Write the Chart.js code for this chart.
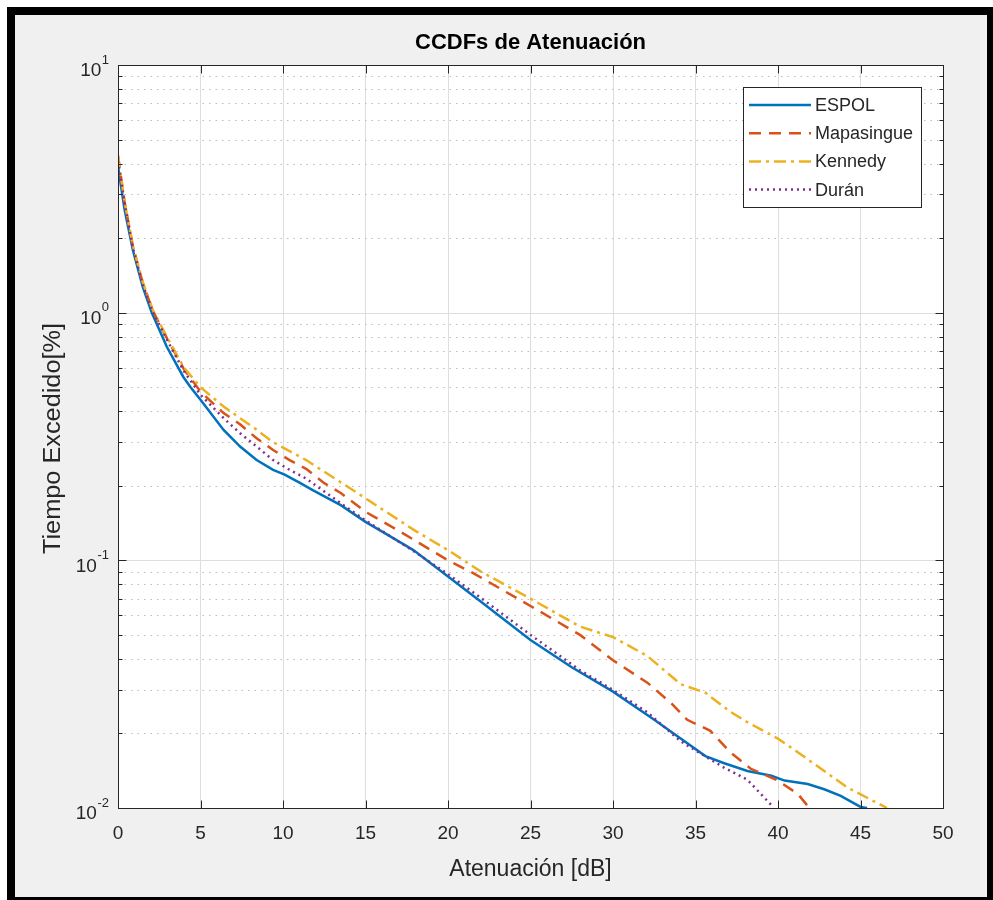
<!DOCTYPE html>
<html>
<head>
<meta charset="utf-8">
<script src="https://cdn.jsdelivr.net/npm/chart.js@4"></script>
<style>
  html, body { margin: 0; padding: 0; background: #fff; overflow: hidden; }
  #frame { position: absolute; left: 7px; top: 7px; width: 972px; height: 882px; border: 8px solid #000; background: #f0f0f0; }
  canvas { display: block; }
</style>
</head>
<body>
<div id="frame"><canvas id="chartCanvas" width="972" height="882"></canvas></div>
<script>
// --- Data ---
const espolX = [0, 0.4, 0.9, 1.5, 2.05, 2.95, 3.96, 4.4, 5, 6.4, 7.4, 8.4, 9.4, 10.1, 11, 11.8, 13.5, 15, 16.5, 17.9, 20, 22, 25, 27.5, 30, 32.5, 34.1, 35.6, 36.7, 38.15, 39.6, 40.4, 41.8, 42.8, 43.8, 45.0, 45.4];
const espolY = [3.9, 2.6, 1.79, 1.27, 1.0, 0.73, 0.55, 0.5, 0.445, 0.336, 0.288, 0.254, 0.232, 0.222, 0.206, 0.192, 0.167, 0.143, 0.125, 0.110, 0.086, 0.068, 0.0477, 0.037, 0.0295, 0.0227, 0.0191, 0.0162, 0.0152, 0.0141, 0.0135, 0.0129, 0.0125, 0.0119, 0.0112, 0.0101, 0.0100];

const mapasingueX = [0, 0.4, 0.9, 1.5, 2.1, 3, 4, 5, 6.4, 7.4, 8.4, 9.4, 10.4, 11.4, 12.5, 13.5, 15, 16.9, 20, 21.5, 25, 28, 30, 32.1, 33.5, 34.5, 35.9, 37.1, 38.35, 39.9, 41.2, 41.9];
const mapasingueY = [4.3, 2.8, 1.85, 1.32, 1.02, 0.78, 0.59, 0.48, 0.393, 0.354, 0.311, 0.279, 0.254, 0.234, 0.205, 0.187, 0.157, 0.133, 0.100, 0.089, 0.0654, 0.050, 0.0395, 0.032, 0.0266, 0.0227, 0.0205, 0.0168, 0.0144, 0.013, 0.0114, 0.0100];

const kennedyX = [0, 0.4, 0.9, 1.5, 2.1, 3, 4, 5, 6.4, 7.4, 8.4, 9.4, 10.4, 11.4, 13, 15, 17.9, 20, 22, 25, 28, 30, 32.1, 34.1, 35.6, 37.1, 38.15, 39.97, 41.2, 42.8, 44.2, 45.4, 46.6];
const kennedyY = [4.3, 2.8, 1.87, 1.33, 1.03, 0.79, 0.60, 0.50, 0.418, 0.375, 0.337, 0.30, 0.276, 0.254, 0.217, 0.178, 0.133, 0.110, 0.09, 0.07, 0.054, 0.049, 0.041, 0.0316, 0.0292, 0.0245, 0.0222, 0.0191, 0.0168, 0.0141, 0.0121, 0.011, 0.0100];

const duranX = [0, 0.4, 0.9, 1.5, 2.1, 3, 4, 5, 6.4, 7.4, 8.4, 9.4, 10.4, 11.4, 13.5, 15, 18, 20, 22, 25, 28, 30, 32.1, 34.1, 35.3, 36.7, 38.15, 39.7];
const duranY = [4.1, 2.75, 1.83, 1.3, 1.01, 0.77, 0.58, 0.466, 0.375, 0.326, 0.288, 0.254, 0.232, 0.214, 0.17, 0.145, 0.108, 0.088, 0.0705, 0.050, 0.036, 0.030, 0.0243, 0.0186, 0.0166, 0.0146, 0.013, 0.0101];

const seriesNames = ["ESPOL", "Mapasingue", "Kennedy", "Durán"];
const seriesX = [espolX, mapasingueX, kennedyX, duranX];
const seriesY = [espolY, mapasingueY, kennedyY, duranY];

const xTicks = [0, 5, 10, 15, 20, 25, 30, 35, 40, 45, 50];
const yExponents = [-2, -1, 0, 1];

const chartTitle = "CCDFs de Atenuación";
const xTitle = "Atenuación [dB]";
const yTitle = "Tiempo Excedido[%]";

// --- Styles ---
const seriesColors = ["#0072BD", "#D95319", "#EDB120", "#7E2F8E"];
const seriesDash = [[], [12, 8], [12, 5, 3, 5], [2, 4]];
const FONT = "'Liberation Sans', Arial, Helvetica, sans-serif";
const AXIS = "#262626";

const datasets = seriesNames.map((name, i) => ({
  label: name,
  data: seriesX[i].map((x, j) => ({ x, y: seriesY[i][j] })),
  borderColor: seriesColors[i],
  borderWidth: 2.5,
  borderDash: seriesDash[i],
  pointRadius: 0,
  fill: false,
  tension: 0,
  order: seriesNames.length - i
}));

// MATLAB-like axes: white plot box, log grid, ticks inside, superscript labels, legend
const matlabAxes = {
  id: "matlabAxes",
  beforeDraw(chart) {
    const { ctx, chartArea: a } = chart;
    ctx.save();
    ctx.fillStyle = "#fff";
    ctx.fillRect(a.left, a.top, a.right - a.left, a.bottom - a.top);
    ctx.restore();
  },
  beforeDatasetsDraw(chart) {
    const { ctx, chartArea: a, scales } = chart;
    const y = scales.y;
    ctx.save();
    for (let e = yExponents[0]; e < yExponents[yExponents.length - 1]; e++) {
      for (let m = 1; m <= 9; m++) {
        const py = Math.round(y.getPixelForValue(m * Math.pow(10, e))) + 0.5;
        ctx.beginPath();
        if (m === 1) {
          ctx.setLineDash([]);
          ctx.strokeStyle = "#dedede";
        } else {
          ctx.setLineDash([1.5, 5]);
          ctx.strokeStyle = "#bdbdbd";
        }
        ctx.lineWidth = 1;
        ctx.moveTo(a.left, py);
        ctx.lineTo(a.right, py);
        ctx.stroke();
      }
    }
    ctx.restore();
  },
  afterDatasetsDraw(chart) {
    const { ctx, chartArea: a, scales } = chart;
    const x = scales.x, y = scales.y;
    const L = Math.round(a.left) + 0.5, R = Math.round(a.right) + 0.5;
    const T = Math.round(a.top) + 0.5, B = Math.round(a.bottom) + 0.5;
    ctx.save();
    ctx.setLineDash([]);
    ctx.strokeStyle = AXIS;
    ctx.lineWidth = 1;
    ctx.strokeRect(L, T, R - L, B - T);

    // ticks
    ctx.beginPath();
    xTicks.forEach(v => {
      const px = Math.round(x.getPixelForValue(v)) + 0.5;
      ctx.moveTo(px, B); ctx.lineTo(px, B - 8);
      ctx.moveTo(px, T); ctx.lineTo(px, T + 8);
    });
    for (let e = yExponents[0]; e <= yExponents[yExponents.length - 1]; e++) {
      for (let m = 1; m <= 9; m++) {
        if (e === yExponents[yExponents.length - 1] && m > 1) break;
        const py = Math.round(y.getPixelForValue(m * Math.pow(10, e))) + 0.5;
        const len = m === 1 ? 8 : 4;
        ctx.moveTo(L, py); ctx.lineTo(L + len, py);
        ctx.moveTo(R, py); ctx.lineTo(R - len, py);
      }
    }
    ctx.stroke();

    // y tick labels 10^n
    ctx.fillStyle = AXIS;
    yExponents.forEach(e => {
      const py = y.getPixelForValue(Math.pow(10, e));
      const exp = String(e);
      ctx.font = `13px ${FONT}`;
      ctx.textAlign = "right";
      ctx.textBaseline = "middle";
      const expW = ctx.measureText(exp).width;
      const right = a.left - 9;
      ctx.fillText(exp, right, py - 5);
      ctx.font = `19px ${FONT}`;
      ctx.fillText("10", right - expW - 0.5, py + 6);
    });

    // title and axis titles
    const cx = (a.left + a.right) / 2;
    const cy = (a.top + a.bottom) / 2;
    ctx.textAlign = "center";
    ctx.textBaseline = "middle";
    ctx.fillStyle = "#000";
    ctx.font = `bold 22px ${FONT}`;
    ctx.fillText(chartTitle, cx, 28);
    ctx.fillStyle = AXIS;
    ctx.font = `23px ${FONT}`;
    ctx.fillText(xTitle, cx, 855);
    ctx.save();
    ctx.translate(39, cy + 2);
    ctx.rotate(-Math.PI / 2);
    ctx.scale(1.1, 1);
    ctx.font = `23px ${FONT}`;
    ctx.fillText(yTitle, 0, 0);
    ctx.restore();

    // legend box
    const lx = 728.5, ly = 72.5, lw = 178, lh = 120;
    ctx.fillStyle = "#fff";
    ctx.fillRect(lx, ly, lw, lh);
    ctx.strokeStyle = AXIS;
    ctx.lineWidth = 1;
    ctx.strokeRect(lx, ly, lw, lh);
    chart.data.datasets.forEach((ds, i) => {
      const ey = 90 + i * 28.2;
      ctx.beginPath();
      ctx.setLineDash(ds.borderDash);
      ctx.strokeStyle = ds.borderColor;
      ctx.lineWidth = ds.borderWidth;
      ctx.moveTo(734, ey);
      ctx.lineTo(796, ey);
      ctx.stroke();
      ctx.setLineDash([]);
      ctx.fillStyle = AXIS;
      ctx.font = `18px ${FONT}`;
      ctx.textAlign = "left";
      ctx.textBaseline = "middle";
      ctx.fillText(ds.label, 800, ey + 1);
    });
    ctx.restore();
  }
};

const canvas = document.getElementById("chartCanvas");
new Chart(canvas, {
  type: "line",
  data: { datasets },
  plugins: [matlabAxes],
  options: {
    responsive: false,
    animation: false,
    devicePixelRatio: 1,
    layout: { padding: { top: 50, right: 44, left: 0, bottom: 0 } },
    plugins: {
      legend: { display: false },
      title: { display: false },
      tooltip: { enabled: false }
    },
    scales: {
      x: {
        type: "linear",
        min: 0,
        max: 50,
        afterFit: s => { s.height = 89; },
        afterBuildTicks: s => { s.ticks = xTicks.map(v => ({ value: v })); },
        ticks: { font: { family: FONT, size: 19 }, color: AXIS, padding: 14, maxRotation: 0, autoSkip: false },
        grid: { color: "#dedede", drawTicks: false },
        border: { display: false }
      },
      y: {
        type: "logarithmic",
        min: 0.01,
        max: 10,
        afterFit: s => { s.width = 103; },
        ticks: { display: false },
        grid: { display: false },
        border: { display: false }
      }
    }
  }
});
</script>
</body>
</html>
